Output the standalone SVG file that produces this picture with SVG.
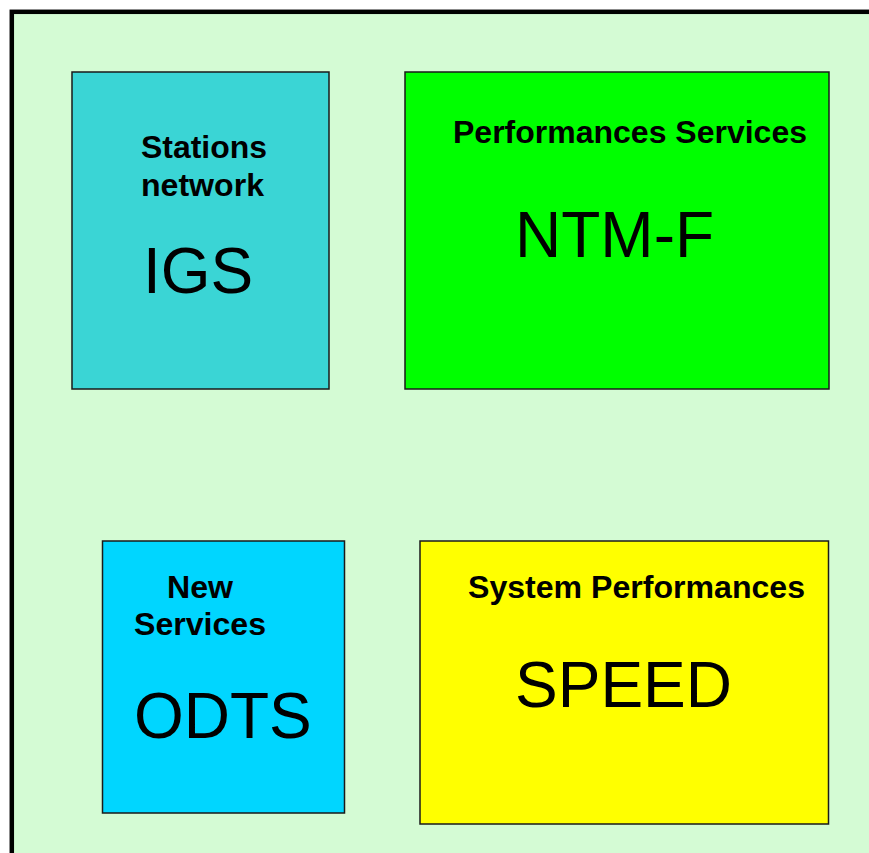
<svg xmlns="http://www.w3.org/2000/svg" width="869" height="853" viewBox="0 0 869 853">
<style>
.box{stroke:#1a1a1a;stroke-width:1.5}
.lbl{font-family:"Liberation Sans",Arial,sans-serif;font-weight:bold;font-size:31px;fill:#000}
.big{font-family:"Liberation Sans",Arial,sans-serif;font-size:64px;fill:#000}
</style>
<rect x="0" y="0" width="869" height="853" fill="#ffffff"/>
<rect id="frame" x="11.8" y="11.8" width="880" height="880" fill="#d4fbd4" stroke="#000" stroke-width="4.5"/>
<g id="connectors"></g>
<g id="igs">
<rect class="box" x="72" y="72" width="257" height="317" fill="#3ad5d5"/>
<text class="lbl" x="141" y="158" textLength="126" lengthAdjust="spacingAndGlyphs">Stations</text>
<text class="lbl" x="141" y="196" textLength="123" lengthAdjust="spacingAndGlyphs">network</text>
<text class="big" x="143" y="293">IGS</text>
</g>
<g id="ntmf">
<rect class="box" x="405" y="72" width="424" height="317" fill="#00ff00"/>
<text class="lbl" x="453" y="143" textLength="354" lengthAdjust="spacingAndGlyphs">Performances Services</text>
<text class="big" x="515" y="257">NTM-F</text>
</g>
<g id="odts">
<rect class="box" x="102.5" y="541" width="242" height="272" fill="#00d6ff"/>
<text class="lbl" x="167" y="598" textLength="66" lengthAdjust="spacingAndGlyphs">New</text>
<text class="lbl" x="134" y="635" textLength="132" lengthAdjust="spacingAndGlyphs">Services</text>
<text class="big" x="134" y="738">ODTS</text>
</g>
<g id="speed">
<rect class="box" x="420" y="541" width="408.5" height="283" fill="#ffff00"/>
<text class="lbl" x="468" y="598" textLength="337" lengthAdjust="spacingAndGlyphs">System Performances</text>
<text class="big" x="515" y="707">SPEED</text>
</g>
</svg>
